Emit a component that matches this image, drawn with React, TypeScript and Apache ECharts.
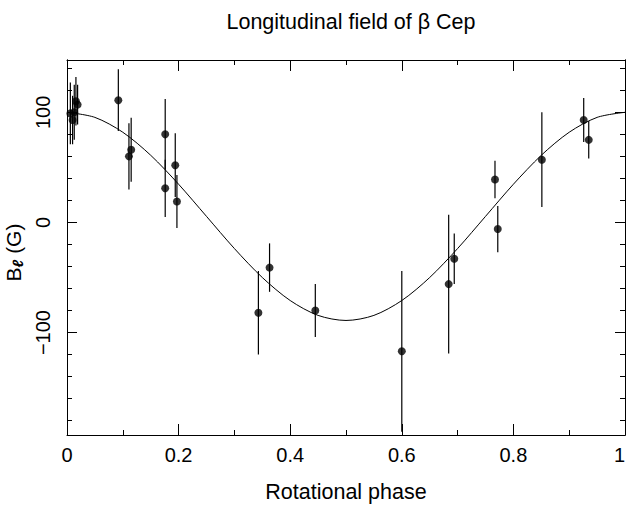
import React, { useEffect, useRef } from "react";
import * as echarts from "echarts";

const phases = [0.006, 0.010, 0.013, 0.016, 0.019, 0.092, 0.111, 0.115, 0.176, 0.176, 0.194, 0.197, 0.343, 0.363, 0.445, 0.600, 0.684, 0.694, 0.767, 0.772, 0.851, 0.926, 0.935];
const fieldG = [99, 93, 100, 110, 107, 111, 60, 66, 80, 31, 52, 19, -82, -41, -80, -117, -56, -33, 39, -6, 57, 93, 75];
const errorsG = [28, 22, 25, 22, 18, 28, 30, 29, 32, 26, 29, 24, 38, 22, 24, 73, 63, 23, 17, 21, 43, 20, 17];

// Fitted curve
const modelPhase = [0, 0.05, 0.1, 0.15, 0.2, 0.25, 0.3, 0.35, 0.4, 0.45, 0.5, 0.55, 0.6, 0.65, 0.7, 0.75, 0.8, 0.85, 0.9, 0.95, 1];
const modelField = [100, 95.4, 81.9, 61.0, 34.7, 5.5, -23.7, -50.0, -70.9, -84.4, -89, -84.4, -70.9, -50.0, -23.7, 5.5, 34.7, 61.0, 81.9, 95.4, 100];

// Axis ticks
const yMajorTicks = [-100, 0, 100];
const yMinorTicks = [-180, -160, -140, -120, -100, -80, -60, -40, -20, 0, 20, 40, 60, 80, 100, 120, 140];
const Y_MIN = -193;
const Y_MAX = 147.5;

const FONT = "Liberation Sans";

export default function App() {
  const ref = useRef<HTMLDivElement>(null);
  useEffect(() => {
    if (!ref.current) return;
    document.body.style.margin = "0";
    document.documentElement.style.overflow = "hidden";
    document.body.style.overflow = "hidden";
    const chart = echarts.init(ref.current, undefined, { renderer: "svg", width: 628, height: 506 });
    const black = "#000";
    const baseY = (position: string, major: boolean, labels: boolean) => ({
      type: "value",
      position,
      offset: 0,
      min: Y_MIN,
      max: Y_MAX,
      splitLine: { show: false },
      axisLine: { show: true, onZero: false, lineStyle: { color: black, width: 1 } },
      axisTick: {
        show: true,
        inside: true,
        length: major ? 10 : 5,
        customValues: major ? yMajorTicks : yMinorTicks,
        lineStyle: { color: black, width: 1 },
      },
      axisLabel: labels
        ? {
            show: true,
            customValues: yMajorTicks,
            rotate: 90,
            margin: 14,
            color: black,
            fontFamily: FONT,
            fontSize: 20,
            formatter: (v: number) => (v < 0 ? "\u2212" + Math.abs(v) : String(v)),
          }
        : { show: false },
      ...(labels
        ? {
            name: "B{s|\u2113} (G)",
            nameLocation: "middle",
            nameGap: 38,
            nameTextStyle: {
              color: black,
              fontFamily: FONT,
              fontSize: 21,
              padding: [0, 10, 0, 0],
              rich: {
                s: { fontSize: 15, fontStyle: "italic", fontWeight: "bold", fontFamily: FONT, color: black, padding: [8, 0, 0, 0] },
              },
            },
          }
        : {}),
    });
    const baseX = (position: string, labels: boolean) => ({
      type: "value",
      position,
      min: 0,
      max: 1,
      interval: 0.2,
      splitLine: { show: false },
      axisLine: { show: true, onZero: false, lineStyle: { color: black, width: 1 } },
      axisTick: { show: true, inside: true, length: 11, lineStyle: { color: black, width: 1 } },
      minorTick: { show: true, splitNumber: 2, length: 5, lineStyle: { color: black, width: 1 } },
      minorSplitLine: { show: false },
      axisLabel: labels
        ? { show: true, margin: 10, color: black, fontFamily: FONT, fontSize: 20, alignMaxLabel: "right" }
        : { show: false },
      ...(labels
        ? {
            name: "Rotational phase",
            nameLocation: "middle",
            nameGap: 46,
            nameTextStyle: { color: black, fontFamily: FONT, fontSize: 21.5 },
          }
        : {}),
    });

    chart.setOption({
      animation: false,
      backgroundColor: "#fff",
      title: {
        text: "Longitudinal field of \u03b2 Cep",
        left: 346,
        top: 6,
        textAlign: "center",
        textStyle: { color: black, fontFamily: FONT, fontSize: 21.5, fontWeight: "normal" },
      },
      grid: { left: 67, right: 3, top: 60, bottom: 71, containLabel: false, outerBoundsMode: "none" },
      xAxis: [baseX("bottom", true), baseX("top", false)],
      yAxis: [
        baseY("left", true, true),
        baseY("left", false, false),
        baseY("right", true, false),
        baseY("right", false, false),
      ],
      series: [
        {
          type: "line",
          xAxisIndex: 0,
          yAxisIndex: 0,
          data: modelPhase.map((p, i) => [p, modelField[i]]),
          smooth: 0.3,
          symbol: "none",
          lineStyle: { color: black, width: 1 },
          silent: true,
        },
        {
          type: "custom",
          xAxisIndex: 0,
          yAxisIndex: 0,
          data: phases.map((p, i) => [p, fieldG[i], errorsG[i]]),
          encode: { x: 0, y: 1 },
          renderItem: (params: any, api: any) => {
            const x = api.value(0);
            const y = api.value(1);
            const e = api.value(2);
            const top = Math.min(y + e, Y_MAX);
            const bot = Math.max(y - e, Y_MIN);
            const p1 = api.coord([x, top]);
            const p2 = api.coord([x, bot]);
            return {
              type: "line",
              shape: { x1: p1[0], y1: p1[1], x2: p2[0], y2: p2[1] },
              style: { stroke: black, lineWidth: 1.2 },
            };
          },
          silent: true,
        },
        {
          type: "scatter",
          xAxisIndex: 0,
          yAxisIndex: 0,
          data: phases.map((p, i) => [p, fieldG[i]]),
          symbol: "circle",
          symbolSize: 8,
          itemStyle: { color: black },
          silent: true,
        },
      ],
    });
    return () => chart.dispose();
  }, []);
  return <div ref={ref} style={{ position: "absolute", left: 0, top: 0, width: 628, height: 506 }} />;
}
